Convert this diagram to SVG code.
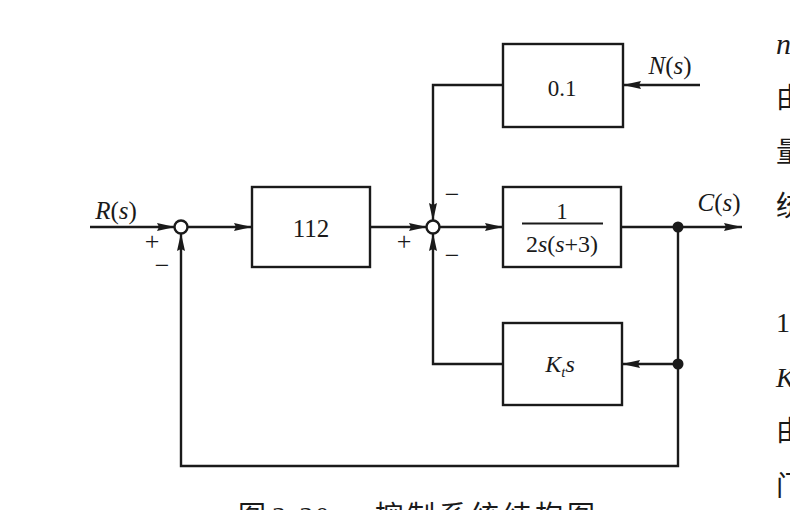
<svg xmlns="http://www.w3.org/2000/svg" width="790" height="510" viewBox="0 0 790 510">
<style>
.blk{fill:#fff;stroke:#1a1a1a;stroke-width:2.4}
.ln{fill:none;stroke:#1a1a1a;stroke-width:2.4}
.sj{fill:#fff;stroke:#1a1a1a;stroke-width:2.4}
text{fill:#1a1a1a}
.i{font-style:italic}
</style>
<defs>
<marker id="ah" viewBox="0 0 18 9" refX="18" refY="4.5" markerWidth="18" markerHeight="9" markerUnits="userSpaceOnUse" orient="auto">
<path d="M0,0.5 L18,4.5 L0,8.5 L2,4.5 Z" fill="#1a1a1a"/>
</marker>
</defs>
<rect width="790" height="510" fill="#fff"/>
<g id="connectors">
<line class="ln" x1="90" y1="227" x2="175" y2="227" marker-end="url(#ah)"/>
<line class="ln" x1="187" y1="227" x2="252" y2="227" marker-end="url(#ah)"/>
<line class="ln" x1="370" y1="227" x2="427" y2="227" marker-end="url(#ah)"/>
<line class="ln" x1="439" y1="227" x2="503" y2="227" marker-end="url(#ah)"/>
<line class="ln" x1="621" y1="227" x2="742" y2="227" marker-end="url(#ah)"/>
<polyline class="ln" points="503,85 433,85 433,221" marker-end="url(#ah)"/>
<line class="ln" x1="700" y1="85" x2="623" y2="85" marker-end="url(#ah)"/>
<polyline class="ln" points="503,364 433,364 433,233" marker-end="url(#ah)"/>
<line class="ln" x1="678" y1="364" x2="622" y2="364" marker-end="url(#ah)"/>
<polyline class="ln" points="678,227 678,466 181,466 181,233" marker-end="url(#ah)"/>
<circle cx="678" cy="227" r="5.5" fill="#1a1a1a"/>
<circle cx="678" cy="364" r="5.5" fill="#1a1a1a"/>
</g>
<g id="sum1" font-family="'Liberation Serif','Times New Roman',serif" font-size="26">
<circle class="sj" cx="181" cy="227" r="6.5"/>
<text x="152" y="250" text-anchor="middle">+</text>
<text x="162" y="274" text-anchor="middle">−</text>
</g>
<g id="sum2" font-family="'Liberation Serif','Times New Roman',serif" font-size="26">
<circle class="sj" cx="433" cy="227" r="6.5"/>
<text x="404" y="250" text-anchor="middle">+</text>
<text x="452" y="203" text-anchor="middle">−</text>
<text x="452" y="264" text-anchor="middle">−</text>
</g>
<g id="input" font-family="'Liberation Serif','Times New Roman',serif">
<text x="116" y="219" font-size="25" text-anchor="middle"><tspan class="i">R</tspan>(<tspan class="i">s</tspan>)</text>
</g>
<g id="output" font-family="'Liberation Serif','Times New Roman',serif">
<text x="719" y="211" font-size="25" text-anchor="middle"><tspan class="i">C</tspan>(<tspan class="i">s</tspan>)</text>
</g>
<g id="noise" font-family="'Liberation Serif','Times New Roman',serif">
<text x="670" y="74" font-size="25" text-anchor="middle"><tspan class="i">N</tspan>(<tspan class="i">s</tspan>)</text>
</g>
<g id="gain112" font-family="'Liberation Serif','Times New Roman',serif">
<rect class="blk" x="252" y="187" width="118" height="80"/>
<text x="311" y="237" font-size="25" text-anchor="middle">112</text>
</g>
<g id="plant" font-family="'Liberation Serif','Times New Roman',serif">
<rect class="blk" x="503" y="187" width="118" height="80"/>
<text x="562" y="219" font-size="23" text-anchor="middle">1</text>
<line x1="522" y1="223.5" x2="603" y2="223.5" stroke="#1a1a1a" stroke-width="2"/>
<text x="562" y="252" font-size="24" text-anchor="middle">2<tspan class="i">s</tspan>(<tspan class="i">s</tspan>+3)</text>
</g>
<g id="gain01" font-family="'Liberation Serif','Times New Roman',serif">
<rect class="blk" x="503" y="44" width="120" height="83"/>
<text x="562" y="96" font-size="23" text-anchor="middle">0.1</text>
</g>
<g id="tacho" font-family="'Liberation Serif','Times New Roman',serif">
<rect class="blk" x="503" y="323" width="119" height="82"/>
<text class="i" x="560" y="372" font-size="24" text-anchor="middle">K<tspan font-size="15" dy="5">t</tspan><tspan dy="-5">s</tspan></text>
</g>
<g id="caption" font-family="'Liberation Serif','Noto Sans CJK SC',serif" font-size="28">
<text x="238" y="526">图</text>
<text x="272" y="526" letter-spacing="2">3-30</text>
<text x="375" y="526" letter-spacing="4">控制系统结构图</text>
</g>
<g id="margin-text" font-family="'Liberation Serif','Noto Sans CJK SC',serif" font-size="28">
<text x="776" y="54" font-style="italic" font-size="30">n</text>
<text x="776" y="108">由</text>
<text x="776" y="162">量</text>
<text x="776" y="216">统</text>
<text x="776" y="332">1</text>
<text x="776" y="387" font-style="italic">K</text>
<text x="776" y="441">由</text>
<text x="776" y="496">门</text>
</g>
</svg>
